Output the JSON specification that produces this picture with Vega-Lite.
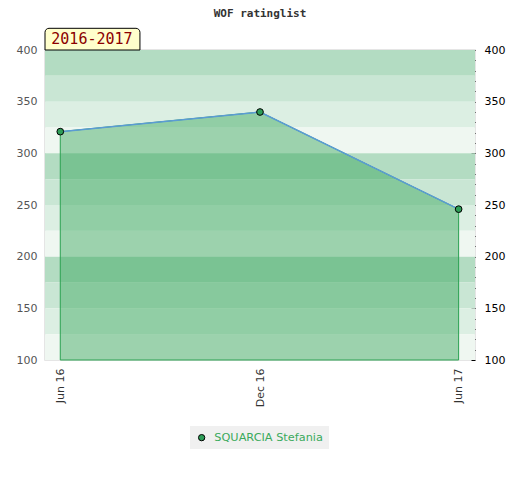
{
  "$schema": "https://vega.github.io/schema/vega-lite/v6.json",
  "width": 430,
  "height": 310,
  "autosize": {"type": "none"},
  "padding": {"left": 45, "top": 50, "right": 45, "bottom": 120},
  "background": "white",
  "title": {
    "text": "WOF ratinglist",
    "font": "DejaVu Sans Mono",
    "fontSize": 11,
    "fontWeight": "bold",
    "color": "#333333",
    "frame": "group",
    "offset": 9,
    "anchor": "middle"
  },
  "config": {
    "view": {"stroke": "#dddddd", "strokeWidth": 1.5},
    "axis": {"labelFont": "DejaVu Sans", "labelFontSize": 11, "grid": false, "domain": false}
  },
  "datasets": {
    "bands": [
      {"lo": 375, "hi": 400, "shade": "a"},
      {"lo": 350, "hi": 375, "shade": "b"},
      {"lo": 325, "hi": 350, "shade": "c"},
      {"lo": 300, "hi": 325, "shade": "d"},
      {"lo": 275, "hi": 300, "shade": "a"},
      {"lo": 250, "hi": 275, "shade": "b"},
      {"lo": 225, "hi": 250, "shade": "c"},
      {"lo": 200, "hi": 225, "shade": "d"},
      {"lo": 175, "hi": 200, "shade": "a"},
      {"lo": 150, "hi": 175, "shade": "b"},
      {"lo": 125, "hi": 150, "shade": "c"},
      {"lo": 100, "hi": 125, "shade": "d"}
    ],
    "ratings": [
      {"date": "2016-06-01", "rating": 321, "player": "SQUARCIA Stefania"},
      {"date": "2016-12-01", "rating": 340, "player": "SQUARCIA Stefania"},
      {"date": "2017-06-01", "rating": 246, "player": "SQUARCIA Stefania"}
    ],
    "badge": [
      {"label": "2016-2017"}
    ]
  },
  "layer": [
    {
      "data": {"name": "bands"},
      "mark": {"type": "rect"},
      "encoding": {
        "x": {"value": 0},
        "x2": {"value": "width"},
        "y": {
          "field": "lo",
          "type": "quantitative",
          "scale": {"domain": [100, 400], "zero": false, "nice": false},
          "axis": {
            "orient": "left",
            "title": null,
            "values": [100, 150, 200, 250, 300, 350, 400],
            "ticks": false,
            "tickSize": 0,
            "labelPadding": 8,
            "labelColor": "#555555"
          }
        },
        "y2": {"field": "hi"},
        "color": {
          "field": "shade",
          "type": "nominal",
          "scale": {"domain": ["a", "b", "c", "d"], "range": ["#b3dcc2", "#c9e6d4", "#dcefe3", "#eff7f1"]},
          "legend": null
        }
      }
    },
    {
      "data": {"name": "ratings"},
      "mark": {"type": "area", "fill": "#31a457", "fillOpacity": 0.44, "stroke": "#2aa050", "strokeWidth": 1},
      "encoding": {
        "x": {
          "field": "date",
          "type": "temporal",
          "scale": {"type": "utc", "domain": [1463529600000, 1497571200000]},
          "axis": {
            "title": null,
            "values": [1464739200000, 1480550400000, 1496275200000],
            "format": "%b %y",
            "labelAngle": 270,
            "ticks": false,
            "labelPadding": 8,
            "labelColor": "#333333"
          }
        },
        "y": {
          "field": "rating",
          "type": "quantitative",
          "axis": {
            "orient": "right",
            "title": null,
            "values": [100, 110, 120, 130, 140, 150, 160, 170, 180, 190, 200, 210, 220, 230, 240, 250, 260, 270, 280, 290, 300, 310, 320, 330, 340, 350, 360, 370, 380, 390, 400],
            "labelExpr": "datum.value % 50 == 0 ? datum.label : ''",
            "ticks": true,
            "offset": -4,
            "tickSize": 4,
            "tickColor": "#000000",
            "labelPadding": 9,
            "labelColor": "#000000"
          }
        },
        "y2": {"datum": 100}
      }
    },
    {
      "data": {"name": "ratings"},
      "mark": {"type": "line", "color": "#5b9bd5", "strokeWidth": 1.5},
      "encoding": {
        "x": {"field": "date", "type": "temporal"},
        "y": {"field": "rating", "type": "quantitative", "axis": null}
      }
    },
    {
      "data": {"name": "ratings"},
      "mark": {"type": "point", "filled": true, "size": 45, "stroke": "#000000", "strokeWidth": 1, "opacity": 1},
      "encoding": {
        "x": {"field": "date", "type": "temporal"},
        "y": {"field": "rating", "type": "quantitative", "axis": null},
        "color": {
          "field": "player",
          "type": "nominal",
          "scale": {"range": ["#2e9e58"]},
          "legend": {
            "orient": "none",
            "legendX": 145,
            "legendY": 376,
            "title": null,
            "fillColor": "#f0f0f0",
            "padding": 6,
            "symbolType": "circle",
            "symbolSize": 40,
            "symbolStrokeColor": "#000000",
            "symbolStrokeWidth": 1,
            "labelColor": "#3aaa5c",
            "labelFont": "DejaVu Sans",
            "labelFontSize": 11.3,
            "labelOffset": 7
          }
        }
      }
    },
    {
      "data": {"name": "badge"},
      "mark": {"type": "rect", "fill": "#ffffcc", "stroke": "#000000", "strokeWidth": 1, "cornerRadiusTopLeft": 4, "cornerRadiusTopRight": 4},
      "encoding": {
        "x": {"datum": 1463529600000, "type": "temporal"},
        "x2": {"datum": 1471046400000},
        "y": {"datum": 400, "type": "quantitative", "axis": null},
        "y2": {"datum": 421}
      }
    },
    {
      "data": {"name": "badge"},
      "mark": {"type": "text", "font": "DejaVu Sans Mono", "fontSize": 15, "color": "#8b0000", "align": "center", "baseline": "middle"},
      "encoding": {
        "text": {"field": "label"},
        "x": {"datum": 1467244800000, "type": "temporal"},
        "y": {"datum": 410.5, "type": "quantitative", "axis": null}
      }
    }
  ],
  "resolve": {"axis": {"y": "independent"}, "scale": {"color": "independent"}}
}
